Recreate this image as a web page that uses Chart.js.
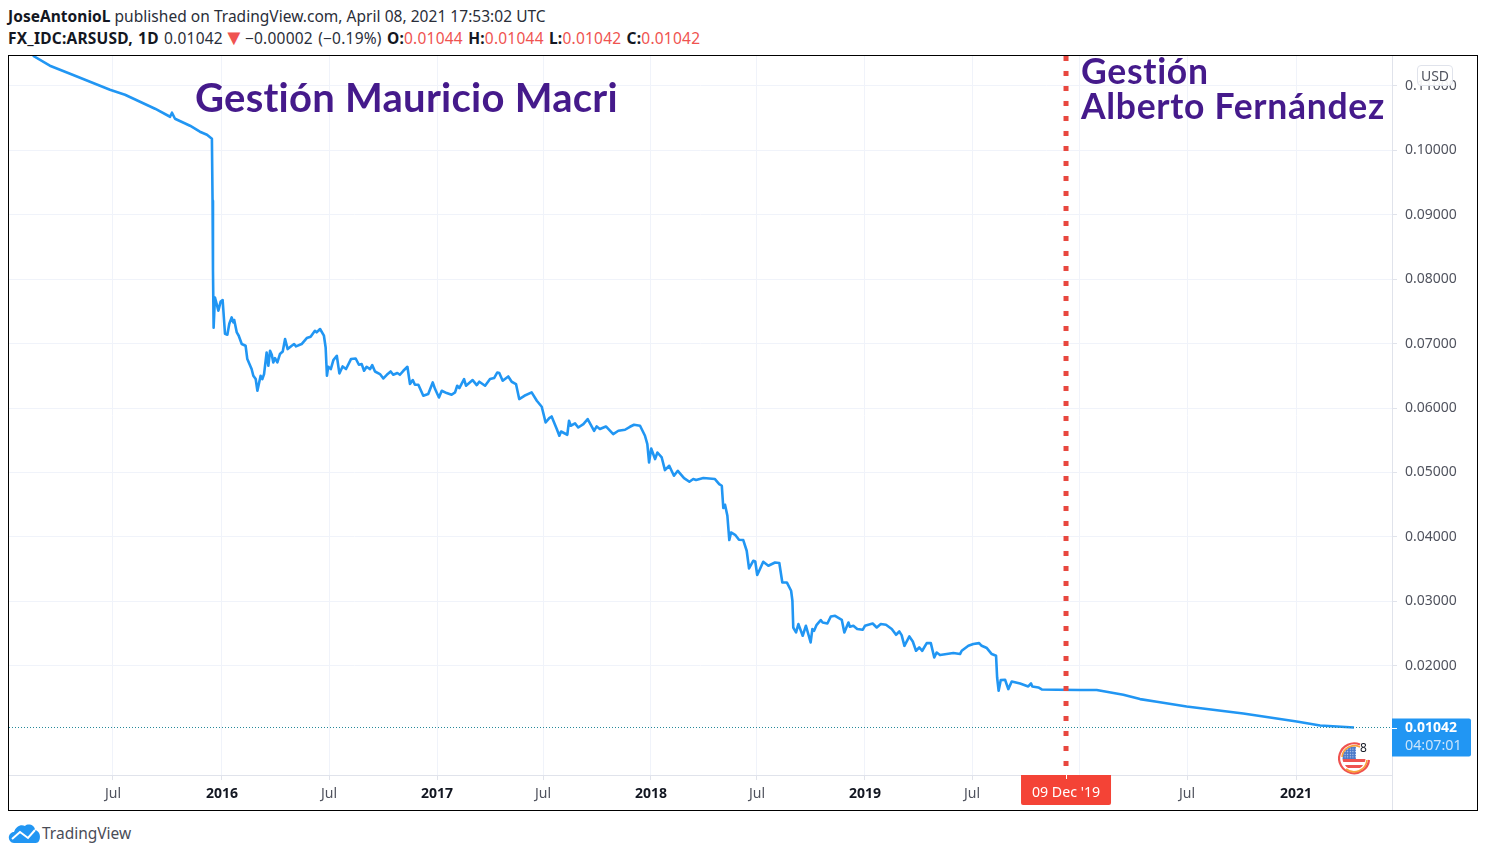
<!DOCTYPE html>
<html><head><meta charset="utf-8">
<script src="https://cdn.jsdelivr.net/npm/chart.js@4"></script>
<style>
html,body{margin:0;padding:0;background:#fff;width:1486px;height:857px;overflow:hidden}
.t{position:absolute;white-space:nowrap}
.hd{font:15.5px "Noto Sans",sans-serif;color:#2a2e39;left:8px;line-height:20px}
.hd b{color:#131722;font-weight:700}
.hd i{font-style:normal;color:#ef5350}
.hd u{text-decoration:none;color:#ef5350;font-size:22px;line-height:14px;vertical-align:-1px}
#frame{position:absolute;left:8px;top:55px;width:1468px;height:754px;border:1px solid #000}
#c{position:absolute;left:9px;top:56px}
.note{font-family:Lato,sans-serif;font-weight:700;color:#451a8b;line-height:35px;font-variant-ligatures:none}
#usd{left:1417px;top:65px;width:34px;height:19px;line-height:18px;text-align:center;background:rgba(255,255,255,.92);border:1px solid #e0e3eb;border-radius:4px;font:14px "Noto Sans",sans-serif;color:#50535e;box-sizing:content-box}
</style></head><body>
<div id="frame"></div>
<canvas id="c" width="1468" height="754" style="width:1468px;height:754px"></canvas>
<div class="t hd" style="top:6px;letter-spacing:.03px"><b>JoseAntonioL</b> published on TradingView.com, April 08, 2021 17:53:02 UTC</div>
<div class="t hd" style="top:28px;letter-spacing:.22px;word-spacing:1px"><b>FX_IDC:ARSUSD, 1D</b> 0.01042<u>▼</u>−0.00002 (−0.19%) <b>O:</b><i>0.01044</i> <b>H:</b><i>0.01044</i> <b>L:</b><i>0.01042</i> <b>C:</b><i>0.01042</i></div>
<div class="t note" style="left:195px;top:80px;font-size:40px;letter-spacing:.25px">Gestión Mauricio Macri</div>
<div class="t note" style="left:1081px;top:53px;font-size:35.5px;letter-spacing:.7px">Gestión<br>Alberto Fernández</div>
<div class="t" id="usd">USD</div>
<svg class="t" style="left:1336px;top:740px" width="38" height="36" viewBox="0 0 38 36">
<defs>
<clipPath id="fl"><circle cx="18" cy="18" r="11.5"/></clipPath>
<pattern id="st" width="2.6" height="2.6" patternUnits="userSpaceOnUse"><rect width="2.6" height="2.6" fill="#4a78c8"/><circle cx="1.3" cy="1.3" r=".6" fill="#dfe9fb"/></pattern>
</defs>
<g clip-path="url(#fl)"><rect x="4" y="4" width="28" height="28" fill="#fff"/>
<rect x="4" y="19" width="28" height="3" fill="#ef5350"/><rect x="4" y="25" width="28" height="3" fill="#ef5350"/>
<rect x="6" y="6" width="14" height="13" fill="url(#st)"/></g>
<path d="M24 4.5A15 15 0 1 0 33 20" fill="none" stroke="#ef5350" stroke-width="2.2"/>
<path d="M24 7A12.5 12.5 0 0 0 6 17" fill="none" stroke="#f7a13a" stroke-width="1.6"/>
<path d="M31 20A13 13 0 0 1 10 29" fill="none" stroke="#f7a13a" stroke-width="1.6"/>
<text x="24" y="12" font-family="Noto Sans" font-size="12" fill="#131722">8</text>
</svg>
<svg class="t" style="left:8px;top:822px" width="33" height="22" viewBox="0 0 33 22">
<path d="M2 19C-1 15 2 10 6 10C8 4 13 2 17 4C20 1 27 3 27 8C32 9 33 15 31 19C30 21 28 21 26 21H6C4 21 3 20 2 19Z" fill="#2196f3"/>
<path d="M4 17L12 10L20 16L27 8" fill="none" stroke="#fff" stroke-width="2"/>
</svg>
<div class="t" style="left:42px;top:823px;font:15.5px/20px 'Noto Sans',sans-serif;color:#4a4d57">TradingView</div>
<script>
const years=[2015.119,2015.198,2015.292,2015.385,2015.478,2015.548,2015.618,2015.688,2015.758,2015.767,2015.781,2015.851,2015.897,2015.930,2015.953,2015.956,2015.958,2015.961,2015.967,2015.975,2015.983,2015.994,2016.003,2016.014,2016.025,2016.034,2016.045,2016.053,2016.057,2016.069,2016.078,2016.092,2016.110,2016.118,2016.138,2016.146,2016.157,2016.165,2016.180,2016.188,2016.196,2016.208,2016.216,2016.224,2016.232,2016.239,2016.247,2016.258,2016.270,2016.283,2016.294,2016.306,2016.325,2016.336,2016.345,2016.371,2016.395,2016.413,2016.433,2016.441,2016.457,2016.475,2016.483,2016.489,2016.495,2016.507,2016.519,2016.535,2016.547,2016.562,2016.578,2016.601,2016.623,2016.638,2016.651,2016.662,2016.674,2016.690,2016.700,2016.713,2016.736,2016.752,2016.768,2016.786,2016.798,2016.817,2016.829,2016.845,2016.864,2016.876,2016.889,2016.899,2016.915,2016.938,2016.961,2016.982,2016.993,2017.011,2017.024,2017.047,2017.070,2017.086,2017.096,2017.106,2017.128,2017.137,2017.168,2017.187,2017.199,2017.226,2017.249,2017.268,2017.283,2017.292,2017.308,2017.334,2017.350,2017.370,2017.385,2017.409,2017.443,2017.467,2017.490,2017.508,2017.525,2017.536,2017.560,2017.572,2017.580,2017.609,2017.617,2017.625,2017.645,2017.660,2017.684,2017.704,2017.734,2017.746,2017.761,2017.789,2017.823,2017.847,2017.878,2017.901,2017.920,2017.948,2017.971,2017.982,2017.990,2018.000,2018.018,2018.029,2018.049,2018.064,2018.084,2018.106,2018.124,2018.153,2018.178,2018.196,2018.209,2018.243,2018.297,2018.317,2018.329,2018.336,2018.344,2018.355,2018.364,2018.372,2018.391,2018.409,2018.429,2018.445,2018.456,2018.476,2018.485,2018.494,2018.507,2018.522,2018.546,2018.577,2018.597,2018.611,2018.632,2018.652,2018.658,2018.662,2018.666,2018.675,2018.686,2018.706,2018.721,2018.743,2018.751,2018.759,2018.771,2018.790,2018.799,2018.821,2018.837,2018.857,2018.888,2018.900,2018.919,2018.926,2018.942,2018.960,2018.986,2018.996,2019.032,2019.051,2019.070,2019.094,2019.121,2019.141,2019.156,2019.167,2019.180,2019.203,2019.219,2019.234,2019.249,2019.263,2019.284,2019.303,2019.319,2019.330,2019.346,2019.377,2019.408,2019.439,2019.447,2019.478,2019.501,2019.528,2019.540,2019.564,2019.587,2019.607,2019.612,2019.619,2019.629,2019.649,2019.664,2019.680,2019.719,2019.757,2019.770,2019.776,2019.804,2019.820,2019.890,2019.998,2020.076,2020.200,2020.278,2020.356,2020.495,2020.759,2021.008,2021.117,2021.275];
const rates=[.11467,.11312,.11188,.11064,.10940,.10862,.10753,.10645,.10520,.10583,.10489,.10381,.10288,.10241,.10179,.09217,.08130,.07246,.07716,.07618,.07510,.07654,.07676,.07153,.07137,.07308,.07406,.07328,.07365,.07173,.07122,.06993,.06966,.06760,.06605,.06501,.06450,.06268,.06501,.06450,.06527,.06862,.06656,.06889,.06827,.06707,.06775,.06707,.06838,.06878,.07070,.06915,.06966,.06993,.06956,.06993,.07086,.07106,.07199,.07173,.07226,.07122,.06940,.06501,.06640,.06605,.06744,.06811,.06537,.06645,.06605,.06760,.06769,.06672,.06682,.06578,.06640,.06605,.06667,.06567,.06527,.06459,.06516,.06567,.06516,.06543,.06516,.06578,.06640,.06372,.06434,.06361,.06361,.06190,.06217,.06397,.06294,.06164,.06268,.06232,.06206,.06242,.06346,.06310,.06450,.06346,.06434,.06356,.06408,.06346,.06450,.06465,.06552,.06543,.06423,.06490,.06408,.06372,.06139,.06190,.06242,.06113,.06020,.05776,.05844,.05869,.05674,.05570,.05636,.05585,.05802,.05725,.05761,.05698,.05751,.05829,.05647,.05714,.05674,.05714,.05596,.05647,.05663,.05709,.05740,.05725,.05570,.05441,.05155,.05372,.05208,.05310,.05233,.05037,.05104,.04949,.05026,.04913,.04856,.04898,.04882,.04913,.04898,.04820,.04794,.04448,.04499,.04328,.03951,.04069,.04033,.03956,.03951,.03785,.03510,.03630,.03619,.03408,.03501,.03614,.03552,.03603,.03594,.03293,.03293,.03164,.03009,.02594,.02570,.02517,.02647,.02466,.02621,.02362,.02570,.02543,.02636,.02709,.02672,.02656,.02765,.02776,.02714,.02517,.02672,.02605,.02621,.02570,.02559,.02621,.02656,.02594,.02647,.02636,.02570,.02481,.02532,.02476,.02310,.02455,.02377,.02233,.02284,.02233,.02352,.02352,.02129,.02206,.02166,.02182,.02197,.02182,.02233,.02310,.02337,.02352,.02310,.02275,.02182,.02155,.01818,.01612,.01778,.01783,.01638,.01756,.01725,.01679,.01725,.01679,.01663,.01632,.01628,.01623,.01623,.01550,.01483,.01441,.01368,.01260,.01136,.01073,.01042];
const xTickValues=[2015.492,2016,2016.499,2017.002,2017.496,2017.999,2018.493,2018.996,2019.495,2019.998,2020.497,2021.005];
const xTickLabels=['Jul','2016','Jul','2017','Jul','2018','Jul','2019','Jul','','Jul','2021'];
const yTickValues=[.02,.03,.04,.05,.06,.07,.08,.09,.10,.11];
const lastPrice=0.01042;
const lastLabel='0.01042';
const countdown='04:07:01';
const markerYear=2019.933;
const markerLabel="09 Dec '19";
const xMin=2015.0075,xMax=2021.452,yMin=0.00305,yMax=0.11463;

const FONT='"Noto Sans",sans-serif';
const isYear=c=>/^\d/.test(xTickLabels[c.index]||'');
const noPad=s=>{s.paddingTop=s.paddingBottom=s.paddingLeft=s.paddingRight=0};
const overlay={id:'overlay',
 afterDatasetsDraw(ch){
  const g=ch.ctx,x=ch.scales.x,y=ch.scales.y,a=ch.chartArea;
  g.save();
  g.strokeStyle='#e0e3eb';g.lineWidth=1;
  g.beginPath();g.moveTo(a.right+.5,a.bottom);g.lineTo(a.right+.5,ch.height);g.stroke();
  const mx=x.getPixelForValue(markerYear);
  g.fillStyle='#f44336';
  g.beginPath();g.roundRect(mx-45,a.bottom,90,30,[0,0,2,2]);g.fill();
  g.strokeStyle='#fff';g.beginPath();g.moveTo(Math.round(mx)+.5,a.bottom);g.lineTo(Math.round(mx)+.5,a.bottom+4);g.stroke();
  g.fillStyle='#fff';g.font='14.2px '+FONT;g.textAlign='center';g.textBaseline='middle';
  g.fillText(markerLabel,mx,a.bottom+17.5);
  const py=y.getPixelForValue(lastPrice);
  g.fillStyle='#2196f3';
  g.beginPath();g.roundRect(a.right,py-9,79,38,[0,2,2,0]);g.fill();
  g.strokeStyle='#fff';g.beginPath();g.moveTo(a.right,Math.round(py)+.5);g.lineTo(a.right+5,Math.round(py)+.5);g.stroke();
  g.textAlign='left';
  g.fillStyle='#fff';g.font='bold 14px '+FONT;g.fillText(lastLabel,a.right+13,py+.5);
  g.fillStyle='#c8e4fb';g.font='14.3px '+FONT;g.fillText(countdown,a.right+13,py+18.5);
  g.restore();
 }};
new Chart(document.getElementById('c'),{
 type:'scatter',
 plugins:[overlay],
 data:{datasets:[
  {data:[{x:xMin,y:lastPrice},{x:xMax,y:lastPrice}],showLine:true,borderColor:'#26899a',borderWidth:1,borderDash:[1,2],pointRadius:0},
  {data:[{x:markerYear,y:yMax},{x:markerYear,y:yMin}],showLine:true,borderColor:'#e8473f',borderWidth:5,borderDash:[5,10],pointRadius:0},
  {data:years.map((x,i)=>({x,y:rates[i]})),showLine:true,borderColor:'#2196f3',borderWidth:2.6,pointRadius:0,tension:0,borderJoinStyle:'round'}
 ]},
 options:{responsive:false,animation:false,devicePixelRatio:1,
  layout:{padding:0,autoPadding:false},
  plugins:{legend:{display:false},tooltip:{enabled:false}},
  scales:{
   x:{type:'linear',min:xMin,max:xMax,
    afterBuildTicks(s){s.ticks=xTickValues.map(value=>({value}))},
    afterFit(s){s.height=35;noPad(s)},
    grid:{color:'#f0f3fa',tickColor:'#e0e3eb',tickLength:5,lineWidth:1},
    border:{color:'#e0e3eb'},
    ticks:{autoSkip:false,maxRotation:0,padding:6,
     callback(v,i){return xTickLabels[i]},
     color(c){return isYear(c)?'#131722':'#50535e'},
     font(c){return isYear(c)?{family:FONT,size:14,weight:'bold'}:{family:FONT,size:14}}}},
   y:{position:'right',min:yMin,max:yMax,
    afterBuildTicks(s){s.ticks=yTickValues.map(value=>({value}))},
    afterFit(s){s.width=85;noPad(s)},
    grid:{color:'#f0f3fa',tickColor:'#e0e3eb',tickLength:5,lineWidth:1},
    border:{color:'#e0e3eb'},
    ticks:{padding:8,color:'#50535e',font:{family:FONT,size:14},
     callback(v){return v.toFixed(5)}}}
  }}
});
</script>
</body></html>
